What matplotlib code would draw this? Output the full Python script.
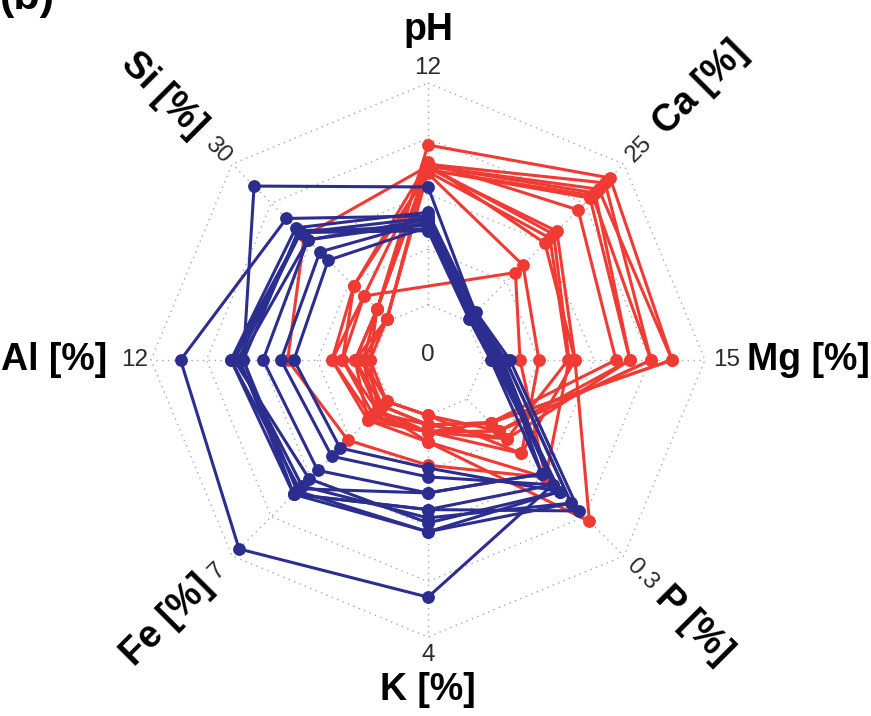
import numpy as np
import matplotlib
matplotlib.use('Agg')
import matplotlib.pyplot as plt

plt.rcParams['font.family'] = ['Liberation Sans', 'DejaVu Sans']

# ---------------- data ----------------
axis_titles = ['pH', 'Ca [%]', 'Mg [%]', 'P [%]', 'K [%]', 'Fe [%]', 'Al [%]', 'Si [%]']
axis_max = [12, 25, 15, 0.3, 4, 7, 12, 30]
axis_max_labels = ['12', '25', '15', '0.3', '4', '7', '12', '30']
center_label = '0'
panel_label = '(b)'

# red group (carbonate-rich samples); nan = missing value
red_pH = [8.64, 7.6, 7.5, 7.3, 7.7, 7.4, 7.2, 7.6, 7.1, np.nan, 7.5, 7.3, 7.5]
red_Ca = [22.8, 22.0, 20.4, 19.6, 17.7, 14.3, 13.2, 12.4, 8.9, 7.7, 21.0, 20.0, 13.8]
red_Mg = [12.77, 11.35, 9.92, 9.92, 8.97, 6.2, 5.73, 6.2, 3.76, 2.48, 12.77, 11.35, 5.8]
red_P = [0.045, 0.061, 0.076, 0.061, 0.045, 0.104, 0.076, 0.234, 0.104, 0.15, 0.045, 0.061, 0.15]
red_K = [0.17, 0.30, 0.17, 0.00, 0.30, 0.00, 0.30, 0.48, 0.30, 0.48, 0.17, 0.30, 0.9]
red_Fe = [0.30, 0.50, 0.60, 0.10, 0.80, 0.10, 0.94, 0.50, 0.70, 0.94, 0.30, 0.50, 1.83]
red_Al = [0.95, 1.63, 0.52, 0.14, 2.2, 0.52, 0.95, 0.14, 1.63, 2.2, 0.52, 0.95, 4.6]
red_Si = [2.25, 4.75, 0.35, 0.35, 6.7, 2.25, 0.35, 2.25, 6.7, 4.75, 0.35, 2.25, 16.2]

# blue group (silicate-rich samples)
blue_pH = [4.8, 6.37, 4.2, 4.5, 4.4, 5.0, 4.7, 4.3, 4.1, 4.6, 4.0]
blue_Ca = [1.0, 1.3, 0.8, 0.9, 1.1, 1.4, 1.2, 0.5, 0.9, 1.0, 0.3]
blue_Mg = [1.0, 1.5, 0.8, 1.0, 1.2, 1.8, 1.5, 0.6, 0.9, 1.3, 0.5]
blue_P = [0.164, 0.199, 0.177, 0.164, 0.143, 0.214, 0.199, 0.177, 0.177, 0.164, 0.143]
blue_K = [3.28, 2.1, 0.95, 1.11, 1.4, 1.7, 1.85, 1.94, 2.1, 1.7, 1.4]
blue_Fe = [6.69, 4.25, 2.18, 2.55, 3.18, 4.25, 3.88, 3.56, 4.1, 4.25, 4.0]
blue_Al = [10.4, 7.0, 4.26, 4.96, 5.93, 7.67, 7.3, 7.5, 7.0, 7.2, 7.67]
blue_Si = [19.6, 25.8, 11.6, 13.2, 15.5, 17.8, 16.9, 16.9, 17.3, 15.5, 16.9]

red_color = '#EF3B33'
blue_color = '#2B2E8E'

# ---------------- layout ----------------
W, H = 871, 716
cx, cy = 428, 360
R_PX = 277

fig = plt.figure(figsize=(W / 100, H / 100), dpi=100)
ax = fig.add_axes([0, 0, 1, 1])
ax.set_xlim(-cx / R_PX, (W - cx) / R_PX)
ax.set_ylim(-(H - cy) / R_PX, cy / R_PX)
ax.axis('off')

n = len(axis_titles)
ang = np.deg2rad(90 - 45 * np.arange(n))
ux, uy = np.cos(ang), np.sin(ang)

seg, cgap = 4, 1
grid_kw = dict(color='#a8a8a8', lw=1.0, ls=(0, (1, 3.2)), zorder=1)
for i in range(seg + 1):
    f = (i + cgap) / (seg + cgap)
    ax.plot(np.append(ux, ux[0]) * f, np.append(uy, uy[0]) * f, **grid_kw)
for k in range(n):
    ax.plot([ux[k] * cgap / (seg + cgap), ux[k]], [uy[k] * cgap / (seg + cgap), uy[k]], **grid_kw)


def draw_group(cols, color, z):
    m = len(cols[0])
    amax = np.asarray(axis_max, float)
    for j in range(m):
        vals = np.array([c[j] for c in cols], float)
        r = cgap / (seg + cgap) + vals / amax * seg / (seg + cgap)
        ok = ~np.isnan(r)
        xs = (r * ux)[ok]
        ys = (r * uy)[ok]
        ax.plot(np.append(xs, xs[0]), np.append(ys, ys[0]), color=color, lw=2.2,
                solid_joinstyle='round', zorder=z)
        ax.plot(xs, ys, 'o', color=color, ms=8.2, mec=color, zorder=z + 0.5)


draw_group([red_pH, red_Ca, red_Mg, red_P, red_K, red_Fe, red_Al, red_Si], red_color, 3)
draw_group([blue_pH, blue_Ca, blue_Mg, blue_P, blue_K, blue_Fe, blue_Al, blue_Si], blue_color, 5)

# ---------------- labels ----------------
title_r = [1.19, 1.39, 1.375, 1.355, 1.19, 1.33, 1.35, 1.35]
title_rot = [0, 45, 0, -45, 0, 45, 0, -45]
for k in range(n):
    ax.text(ux[k] * title_r[k], uy[k] * title_r[k], axis_titles[k], fontsize=27,
            fontweight='bold', ha='center', va='center', rotation=title_rot[k],
            rotation_mode='anchor', color='black')

val_r = [1.054, 1.075, 1.077, 1.095, 1.065, 1.075, 1.058, 1.072]
val_rot = [0, 45, 0, -45, 0, 45, 0, -45]
for k in range(n):
    ax.text(ux[k] * val_r[k], uy[k] * val_r[k], axis_max_labels[k], fontsize=17.5,
            ha='center', va='center', rotation=val_rot[k], rotation_mode='anchor',
            color='#2a2a2a')
ax.text(0, 0.018, center_label, fontsize=17.5, ha='center', va='center', color='#2a2a2a')

ax.text(-1.545, 1.268, panel_label, fontsize=31, fontweight='bold', ha='left',
        va='baseline', color='black')

fig.savefig('out.png', dpi=100)
